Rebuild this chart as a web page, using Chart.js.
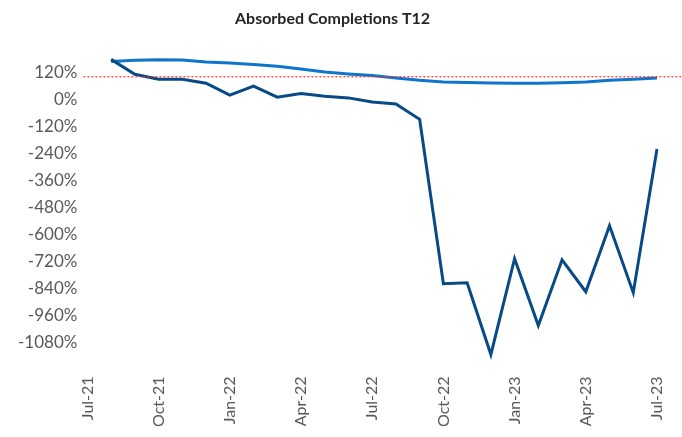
<!DOCTYPE html>
<html>
<head>
<meta charset="utf-8">
<script src="https://cdn.jsdelivr.net/npm/chart.js@4/dist/chart.umd.min.js"></script>
<style>
  html, body { margin: 0; padding: 0; background: #fff; }
  #wrap { width: 682px; height: 437px; position: relative; }
</style>
</head>
<body>
<div id="wrap"><canvas id="chart"></canvas></div>
<script>
// Absorbed Completions T12 - monthly, values in percent
const months = [
  "Jul-21", "Aug-21", "Sep-21", "Oct-21", "Nov-21", "Dec-21",
  "Jan-22", "Feb-22", "Mar-22", "Apr-22", "May-22", "Jun-22",
  "Jul-22", "Aug-22", "Sep-22", "Oct-22", "Nov-22", "Dec-22",
  "Jan-23", "Feb-23", "Mar-23", "Apr-23", "May-23", "Jun-23", "Jul-23",
];
const monthlyAbsorbed = [
  null, 177, 111, 89, 89, 71,
  18, 58, 9, 25, 13, 6,
  -12, -21, -89, -819, -815, -1134,
  -708, -1005, -713, -855, -562, -859, -221,
];
const trailingAbsorbed = [
  null, 168, 173, 175, 174, 165,
  161, 154, 146, 134, 121, 112,
  105, 94, 84, 77, 74, 72,
  71, 71, 73, 77, 84, 89, 94,
];
const targetLine = 100;
const yTicks = [120, 0, -120, -240, -360, -480, -600, -720, -840, -960, -1080];

// dotted red reference line, runs across the plot to the right edge
const targetPlugin = {
  id: "target",
  afterDatasetsDraw(chart) {
    const y = chart.scales.y.getPixelForValue(targetLine);
    const ctx = chart.ctx;
    ctx.save();
    ctx.strokeStyle = "#ff2a2a";
    ctx.lineWidth = 1.2;
    ctx.setLineDash([2, 2]);
    ctx.beginPath();
    ctx.moveTo(chart.chartArea.left - 4, y);
    ctx.lineTo(chart.width - 1, y);
    ctx.stroke();
    ctx.restore();
  },
};

new Chart(document.getElementById("chart"), {
  type: "line",
  data: {
    labels: months,
    datasets: [
      {
        label: "Absorbed Completions",
        data: monthlyAbsorbed,
        borderColor: "#074a86",
        borderWidth: 3,
        pointRadius: 0,
        tension: 0,
      },
      {
        label: "Absorbed Completions T12",
        data: trailingAbsorbed,
        borderColor: "#0f74cc",
        borderWidth: 3,
        pointRadius: 0,
        tension: 0,
      },
    ],
  },
  options: {
    responsive: true,
    maintainAspectRatio: false,
    animation: false,
    layout: { padding: { left: 8, right: 25, top: 0, bottom: 3 } },
    plugins: {
      legend: { display: false },
      tooltip: { enabled: false },
      title: {
        display: true,
        text: "Absorbed Completions T12",
        color: "#262626",
        font: { family: "Lato", size: 16, weight: "bold" },
        padding: { top: 9, bottom: 17 },
      },
    },
    scales: {
      x: {
        offset: false,
        grid: { display: false, drawTicks: false },
        border: { display: false },
        // rotated last label would otherwise reserve extra room on the right
        afterFit: (scale) => {
          scale.paddingRight = 0;
        },
        ticks: {
          autoSkip: false,
          maxRotation: 90,
          minRotation: 90,
          padding: 7,
          color: "#595959",
          font: { family: "Lato", size: 16 },
          callback: (v, i) => (i % 3 === 0 ? months[i] : ""),
        },
      },
      y: {
        min: -1200,
        max: 240,
        grid: { display: false, drawTicks: false },
        border: { display: false },
        afterBuildTicks: (axis) => {
          axis.ticks = yTicks.map((v) => ({ value: v }));
        },
        ticks: {
          padding: 10,
          color: "#595959",
          font: { family: "Lato", size: 17 },
          callback: (v) => v + "%",
        },
      },
    },
  },
  plugins: [targetPlugin],
});
</script>
</body>
</html>
